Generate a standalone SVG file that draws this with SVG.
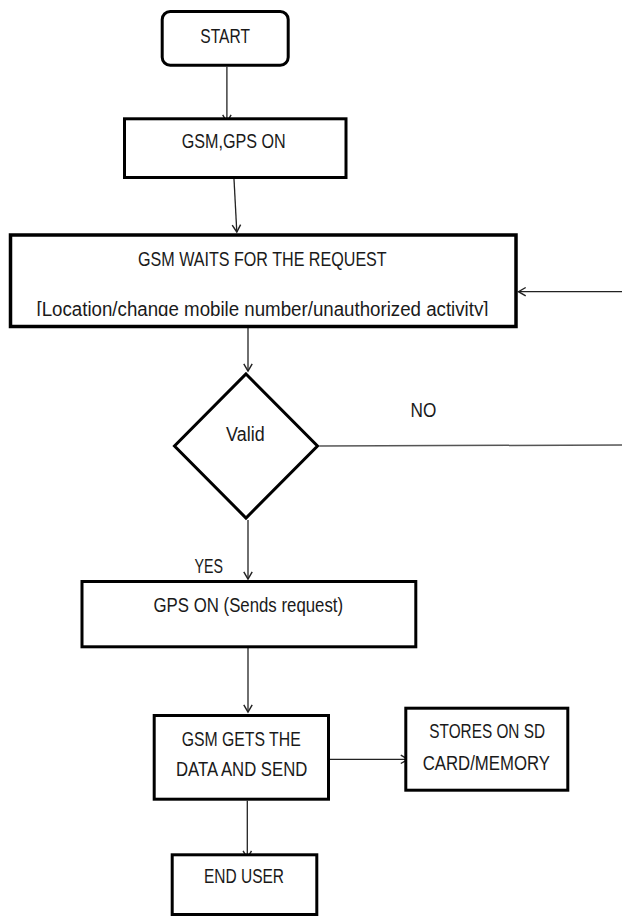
<svg xmlns="http://www.w3.org/2000/svg" width="622" height="917" viewBox="0 0 622 917">
<style>
  .box{fill:#fff;stroke:#000;stroke-width:3}
  .con{fill:none;stroke:#222;stroke-width:1.3}
  .t{font-family:"Liberation Sans",Arial,sans-serif;font-size:19.5px;fill:#1a1a1a}
</style>
<defs>
  <marker id="arr" markerUnits="userSpaceOnUse" markerWidth="12" markerHeight="12" viewBox="-8 -5 10 10" refX="0" refY="0" orient="auto">
    <path d="M-6,-3.5 L0,0 L-6,3.5" fill="none" stroke="#222" stroke-width="1.2"/>
  </marker>
  <clipPath id="waitsClip"><rect x="10" y="236" width="505" height="80"/></clipPath>
</defs>
<rect width="622" height="917" fill="#fff"/>
<g id="connectors">
  <line class="con" x1="226.9" y1="66.7" x2="226.9" y2="122" marker-end="url(#arr)"/>
  <line class="con" x1="234" y1="179" x2="236.8" y2="232" marker-end="url(#arr)"/>
  <line class="con" x1="622" y1="291.7" x2="518.5" y2="291.7" marker-end="url(#arr)"/>
  <line class="con" x1="248" y1="328" x2="248" y2="371" marker-end="url(#arr)"/>
  <line x1="319.3" y1="446" x2="622" y2="445" stroke="#555" stroke-width="1.5"/>
  <line class="con" x1="248" y1="520" x2="248" y2="579" marker-end="url(#arr)"/>
  <line class="con" x1="248" y1="648" x2="248" y2="712" marker-end="url(#arr)"/>
  <line class="con" x1="330" y1="759.3" x2="408" y2="759.3" marker-end="url(#arr)"/>
  <line class="con" x1="247.3" y1="800.7" x2="247.3" y2="858" marker-end="url(#arr)"/>
</g>
<g id="start">
  <rect class="box" x="162.2" y="11.5" width="126" height="53.7" rx="8"/>
  <text class="t" x="200.3" y="43.3" textLength="49.6" lengthAdjust="spacingAndGlyphs">START</text>
</g>
<g id="gsm-gps-on">
  <rect class="box" x="124.5" y="118.8" width="221.5" height="58.7"/>
  <text class="t" x="181.7" y="147.7" textLength="104" lengthAdjust="spacingAndGlyphs">GSM,GPS ON</text>
</g>
<g id="gsm-waits">
  <rect class="box" x="10.5" y="235" width="505.5" height="91.5" style="stroke-width:3.5"/>
  <text class="t" x="138" y="265.7" textLength="248.7" lengthAdjust="spacingAndGlyphs">GSM WAITS FOR THE REQUEST</text>
  <text class="t" x="36.5" y="315.5" textLength="452" lengthAdjust="spacingAndGlyphs" clip-path="url(#waitsClip)">[Location/change mobile number/unauthorized  activity]</text>
</g>
<g id="valid">
  <polygon class="box" points="246,374 317.5,446 246,518 174.5,446"/>
  <text class="t" x="226.1" y="440.7" textLength="38.5" lengthAdjust="spacingAndGlyphs">Valid</text>
</g>
<g id="label-no">
  <text class="t" x="410.6" y="417.3" textLength="25.8" lengthAdjust="spacingAndGlyphs">NO</text>
</g>
<g id="label-yes">
  <text class="t" x="194.4" y="572.7" textLength="28.5" lengthAdjust="spacingAndGlyphs">YES</text>
</g>
<g id="gps-on-sends">
  <rect class="box" x="82" y="581.5" width="333.8" height="65.3"/>
  <text class="t" x="153.5" y="611.7" textLength="189.6" lengthAdjust="spacingAndGlyphs">GPS ON (Sends request)</text>
</g>
<g id="gsm-gets">
  <rect class="box" x="154.2" y="715.5" width="174.3" height="83.7"/>
  <text class="t" x="181.7" y="746" textLength="119" lengthAdjust="spacingAndGlyphs">GSM GETS THE</text>
  <text class="t" x="176" y="776" textLength="131.3" lengthAdjust="spacingAndGlyphs">DATA AND SEND</text>
</g>
<g id="stores">
  <rect class="box" x="405.8" y="708.2" width="162" height="82"/>
  <text class="t" x="429.3" y="738.3" textLength="115.7" lengthAdjust="spacingAndGlyphs">STORES ON SD</text>
  <text class="t" x="422.7" y="770" textLength="127.3" lengthAdjust="spacingAndGlyphs">CARD/MEMORY</text>
</g>
<g id="end-user">
  <rect class="box" x="172.2" y="854.8" width="144.6" height="59.7"/>
  <text class="t" x="204" y="883.3" textLength="80" lengthAdjust="spacingAndGlyphs">END USER</text>
</g>
</svg>
